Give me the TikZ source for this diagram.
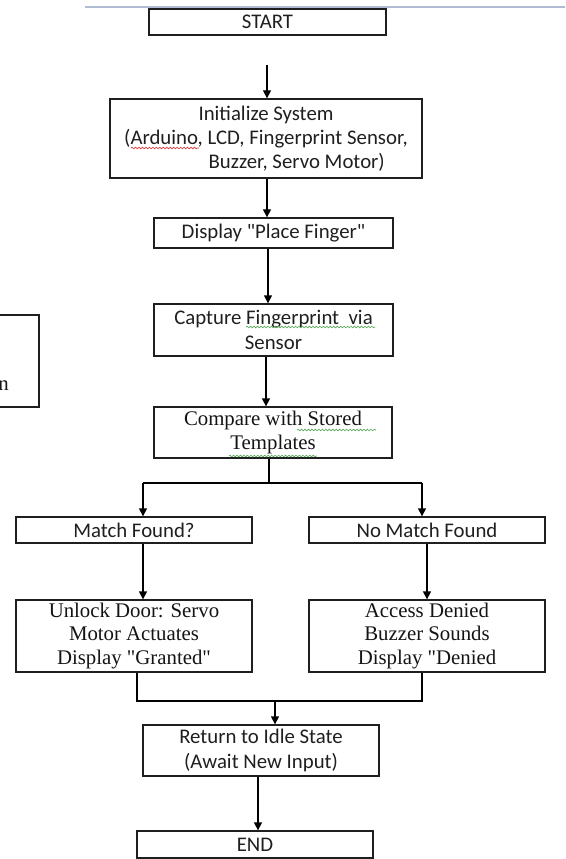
\documentclass[tikz,border=0pt]{standalone}
\usepackage{fontspec}
\newfontfamily\calface{Carlito}
\newfontfamily\serifface{Liberation Serif}
\usetikzlibrary{arrows.meta,decorations.pathmorphing}
\newcommand\calfont{\calface\fontsize{15.6pt}{18.2pt}\selectfont}
\newcommand\seriffont{\serifface\fontsize{15.6pt}{17.5pt}\selectfont}
\definecolor{topblue}{RGB}{176,188,210}
\definecolor{spellred}{RGB}{220,60,60}
\definecolor{spellgreen}{RGB}{90,170,90}
\begin{document}
\begin{tikzpicture}[x=0.75pt,y=-0.75pt,
  box/.style={draw=black!88, line width=1pt, inner sep=0pt, align=center,
    text=black!88, font=\calfont},
  serifbox/.style={font=\seriffont, text=black!92},
  wh/.style 2 args={minimum width=#1*0.75pt, minimum height=#2*0.75pt},
  conn/.style={draw=black, line width=1pt},
  arr/.style={conn, -{Triangle[length=6pt,width=6pt]}},
  topline/.style={draw=topblue, line width=1.1pt},
  wavy/.style={line width=0.5pt, decorate,
    decoration={snake, amplitude=0.6pt, segment length=2.6pt}}
]
\useasboundingbox (0,0) rectangle (565,859);
\clip (0,0) rectangle (565,859);

% page rule at the top
\coordinate (tl) at (85,7);
\coordinate (tr) at (566,7);
\draw[topline] (tl) -- (tr);

% partial box at the left edge
\node[box, serifbox, wh={48}{92}] (side) at (15,361) {};
\node[serifbox, inner sep=0pt, anchor=base east] (sidetext) at (9,390) {n};

% boxes
\node[box, wh={237}{26}] (start) at (267.5,22) {START};
\node[box, wh={312}{79}] (init) at (266,138.5)
  {Initialize System\\(Arduino, LCD, Fingerprint Sensor,\\\hspace*{46pt}Buzzer, Servo Motor)};
\node[box, wh={239}{30}] (disp) at (273.5,233) {Display "Place Finger"};
\node[box, wh={239}{52}] (capt) at (273.5,330) {Capture Fingerprint\ \ via\\Sensor};
\node[box, serifbox, wh={238}{51}] (comp) at (273,432.5) {Compare with Stored\\Templates};
\node[box, wh={236}{26}] (match) at (134,530) {Match Found?};
\node[box, wh={236}{26}] (nomatch) at (427,530) {No Match Found};
\node[box, serifbox, wh={236}{72}] (unlock) at (134,636)
  {Unlock Door: Servo\\Motor Actuates\\Display "Granted"};
\node[box, serifbox, wh={236}{72}] (access) at (427,636)
  {Access Denied\\Buzzer Sounds\\Display "Denied};
\node[box, wh={236}{51}] (ret) at (261,750.5) {Return to Idle State\\(Await New Input)};
\node[box, wh={236}{27}] (endn) at (255,844.5) {END};

% spell-check underlines
\draw[wavy, spellred] (131,148) -- (199,148);
\draw[wavy, spellgreen] (246,327) -- (375,327);
\draw[wavy, spellgreen] (297,430) -- (376,430);
\draw[wavy, spellgreen] (229,456) -- (317,456);

% connectors
\coordinate (a0) at (267,65);
\draw[arr] (a0) -- (a0 |- init.north);
\coordinate (x1) at (267,0);
\draw[arr] (init.south -| x1) -- (disp.north -| x1);
\coordinate (x2) at (268,0);
\draw[arr] (disp.south -| x2) -- (capt.north -| x2);
\coordinate (x3) at (266,0);
\draw[arr] (capt.south -| x3) -- (comp.north -| x3);

\coordinate (bc) at (269,483);
\coordinate (bl) at (143,483);
\coordinate (br) at (422,483);
\draw[conn] (comp.south -| bc) -- (bc);
\draw[conn] (bl) -- (br);
\draw[arr] (bl) -- (bl |- match.north);
\draw[arr] (br) -- (br |- nomatch.north);
\draw[arr] (match.south -| bl) -- (unlock.north -| bl);
\draw[arr] (nomatch.south) -- (access.north);

\coordinate (ml) at (137,701);
\coordinate (mr) at (422,701);
\coordinate (mc) at (275,701);
\draw[conn] (unlock.south -| ml) -- (ml) -- (mr) -- (access.south -| mr);
\draw[arr] (mc) -- (mc |- ret.north);
\coordinate (x9) at (258,0);
\draw[arr] (ret.south -| x9) -- (endn.north -| x9);
\end{tikzpicture}
\end{document}
